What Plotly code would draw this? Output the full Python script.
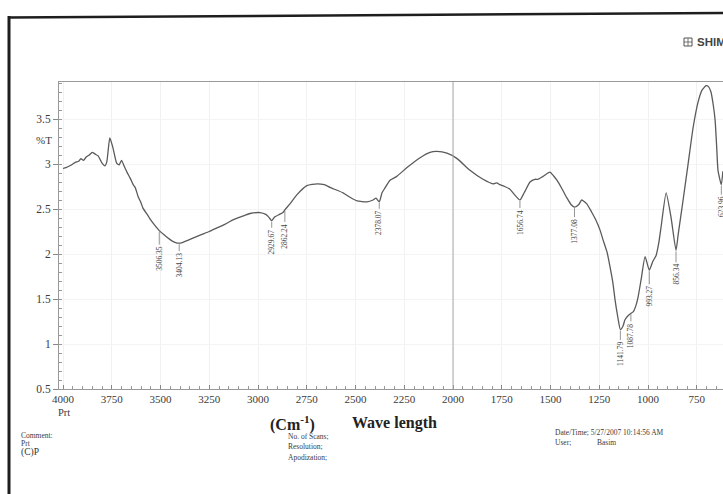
import plotly.graph_objects as go

# FTIR spectrum (transmittance vs wavenumber)
wavenumber = [
    4000, 3985, 3965, 3950, 3935, 3920, 3908, 3895, 3880, 3865, 3850, 3835, 3820,
    3800, 3785, 3775, 3760, 3745, 3725, 3712, 3700, 3685, 3672, 3655, 3640, 3630,
    3615, 3600, 3590, 3565, 3554, 3530, 3506.35, 3480, 3451, 3426, 3404.13, 3385,
    3340, 3297, 3250, 3210, 3170, 3128, 3080, 3041, 2990, 2960, 2945, 2929.67,
    2915, 2890, 2872, 2862.24, 2835, 2800, 2749, 2697, 2660, 2631, 2564, 2528,
    2492, 2441, 2410, 2395, 2378.07, 2364, 2350, 2323, 2290, 2236, 2169, 2118,
    2082, 2031, 1979, 1913, 1846, 1795, 1775, 1760, 1735, 1708, 1685, 1656.74,
    1635, 1605, 1580, 1564, 1540, 1503, 1485, 1467, 1440, 1415, 1395, 1377.08,
    1355, 1340, 1315, 1290, 1268, 1245, 1231, 1210, 1195, 1180, 1169, 1155,
    1141.79, 1128, 1118, 1100, 1087.78, 1075, 1060, 1051, 1035, 1015, 993.27,
    975, 959, 945, 933, 907, 882, 856.34, 845, 820, 795, 769, 743, 723,
    702, 690, 677, 665, 656, 648, 641, 623.96, 616,
]
transmittance = [
    2.95, 2.96, 2.98, 3.00, 3.02, 3.03, 3.06, 3.04, 3.08, 3.10, 3.13, 3.11, 3.09,
    3.01, 2.98, 3.03, 3.29, 3.19, 3.01, 2.99, 3.04, 2.97, 2.91, 2.84, 2.77, 2.74,
    2.64, 2.57, 2.51, 2.43, 2.39, 2.32, 2.26, 2.21, 2.16, 2.13, 2.12, 2.13,
    2.17, 2.21, 2.25, 2.29, 2.33, 2.38, 2.42, 2.45, 2.46, 2.44, 2.41, 2.37,
    2.41, 2.44, 2.46, 2.49, 2.56, 2.66, 2.76, 2.78, 2.77, 2.74, 2.68, 2.63,
    2.59, 2.58, 2.60, 2.62, 2.58, 2.68, 2.73, 2.82, 2.86, 2.96, 3.07, 3.13,
    3.14, 3.12, 3.06, 2.93, 2.83, 2.78, 2.79, 2.77, 2.75, 2.72, 2.66, 2.60,
    2.68, 2.80, 2.83, 2.83, 2.86, 2.91, 2.87, 2.82, 2.72, 2.62, 2.55, 2.52,
    2.55, 2.60, 2.56, 2.47, 2.38, 2.26, 2.16, 2.02, 1.86, 1.68, 1.49, 1.30,
    1.16, 1.20, 1.27, 1.32, 1.34, 1.36, 1.44, 1.52, 1.72, 1.97, 1.82,
    1.92, 1.98, 2.12, 2.30, 2.68, 2.41, 2.04, 2.22, 2.60, 2.99, 3.40, 3.69, 3.82,
    3.87, 3.86, 3.80, 3.65, 3.49, 3.20, 2.93, 2.77, 2.92,
]

# Labelled absorption bands
band_wn = [3506.35, 3404.13, 2929.67, 2862.24, 2378.07, 1656.74, 1377.08,
           1141.79, 1087.78, 993.27, 856.34, 623.96]
band_offset = [28, 22, 21, 26, 21, 22, 24, 24, 22, 26, 24, 22]

x_ticks = [4000, 3750, 3500, 3250, 3000, 2750, 2500, 2250, 2000, 1750, 1500, 1250, 1000, 750]
y_ticks = [0.5, 1, 1.5, 2, 2.5, 3, 3.5]

W, H = 723, 494
L, R, T, B = 59, 0, 82, 105
PW, PH = W - L - R, H - T - B


def px(xp):
    return (xp - L) / PW


def py(yp):
    return (H - B - yp) / PH


SERIF = "Liberation Serif, Times New Roman, serif"
INK = "#3a3a3a"
CURVE = "#5a5a5a"

fig = go.Figure()
fig.add_trace(go.Scatter(
    x=wavenumber, y=transmittance, mode="lines",
    line=dict(color=CURVE, width=1.3, shape="spline", smoothing=0.5),
    hoverinfo="skip", showlegend=False,
))

annotations = []
for wn, off in zip(band_wn, band_offset):
    t = transmittance[wavenumber.index(wn)]
    annotations.append(dict(
        x=wn, y=t, xref="x", yref="y", text=f"{wn:.2f}", textangle=-90,
        showarrow=True, arrowhead=0, arrowwidth=0.7, arrowcolor="#666",
        ax=0, ay=off, standoff=1,
        font=dict(family=SERIF, size=7.5, color="#444"),
    ))

# y-axis unit
annotations.append(dict(x=px(54), y=py(140), xref="paper", yref="paper", text="%T",
                        showarrow=False, xanchor="right", yanchor="middle",
                        font=dict(family=SERIF, size=11, color=INK)))


def txt(x, y, s, size=7.5, anchor="left", bold=False, color=INK, family=SERIF):
    annotations.append(dict(
        x=px(x), y=py(y), xref="paper", yref="paper", text=f"<b>{s}</b>" if bold else s,
        showarrow=False, xanchor=anchor, yanchor="middle",
        font=dict(family=family, size=size, color=color)))


# footer texts
txt(64, 412, "Prt", size=10.5, anchor="center")
txt(292, 423, "(Cm<sup>-1</sup>)", size=16, anchor="center", bold=True, color="#222")
txt(350, 423, "Wave length", size=16, bold=True, color="#222")
txt(19, 435, "Comment:")
txt(19, 443, "Prt")
txt(19, 452, "(C)P", size=9.5, color="#333")
txt(286, 436, "No. of Scans;")
txt(286, 446, "Resolution;")
txt(286, 457, "Apodization;")
txt(553, 432, "Date/Time; 5/27/2007 10:14:56 AM")
txt(553, 442, "User;")
txt(595, 442, "Basim")
txt(695, 42, "SHIMADZU", size=11.5, bold=True, color="#444",
    family="Liberation Sans, Arial, sans-serif")

shapes = [
    # page border
    dict(type="line", xref="paper", yref="paper", x0=px(9), x1=px(9), y0=py(16), y1=py(500),
         line=dict(color="#1e1e1e", width=3)),
    dict(type="line", xref="paper", yref="paper", x0=px(8), x1=px(724), y0=py(17.5), y1=py(13),
         line=dict(color="#1e1e1e", width=2.5)),
    # 2000 cm-1 reference line
    dict(type="line", xref="x", yref="paper", x0=2000, x1=2000, y0=0, y1=1,
         line=dict(color="#aaaaaa", width=1)),
    # logo box
    dict(type="rect", xref="paper", yref="paper", x0=px(684), x1=px(692), y0=py(46), y1=py(38),
         line=dict(color="#555", width=1)),
    dict(type="line", xref="paper", yref="paper", x0=px(688), x1=px(688), y0=py(46), y1=py(38),
         line=dict(color="#555", width=0.8)),
    dict(type="line", xref="paper", yref="paper", x0=px(684), x1=px(692), y0=py(42), y1=py(42),
         line=dict(color="#555", width=0.8)),
]

fig.update_layout(
    width=W, height=H,
    margin=dict(l=L, r=R, t=T, b=B, pad=0),
    paper_bgcolor="white", plot_bgcolor="white",
    showlegend=False,
    annotations=annotations,
    shapes=shapes,
    xaxis=dict(
        range=[4000 + 4 / 0.195, 4000 - 660 / 0.195],
        tickvals=x_ticks, ticktext=[str(v) for v in x_ticks],
        tickfont=dict(family=SERIF, size=11, color=INK),
        ticks="inside", ticklen=4, tickcolor="#888",
        minor=dict(dtick=50, ticks="inside", ticklen=3, tickcolor="#999", showgrid=False),
        showline=True, linecolor="#999", linewidth=1, mirror=True,
        showgrid=True, gridcolor="#f1f1f1", gridwidth=1,
        zeroline=False,
    ),
    yaxis=dict(
        range=[0.5, 0.5 + 307 / 90],
        tickvals=y_ticks, ticktext=[f"{v:g}" for v in y_ticks],
        tickfont=dict(family=SERIF, size=11.5, color=INK),
        ticks="outside", ticklen=5, tickcolor="#888",
        minor=dict(dtick=0.1, ticks="inside", ticklen=3, tickcolor="#999", showgrid=False),
        showline=True, linecolor="#999", linewidth=1,
        showgrid=True, gridcolor="#f4f4f4",
        zeroline=False,
    ),
)

fig.write_html("out.html")
